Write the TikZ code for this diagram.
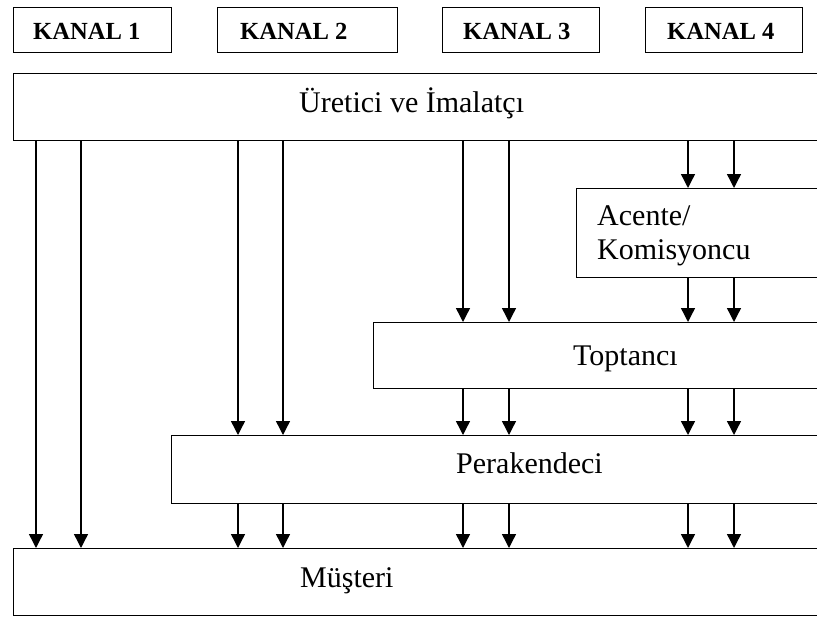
\documentclass[tikz,border=0pt]{standalone}
\usepackage{fontspec}
\setmainfont{Liberation Serif}
\usetikzlibrary{arrows.meta}
\begin{document}
\begin{tikzpicture}[x=1pt,y=-1pt,
  panel/.style={draw, line width=1.4pt, inner sep=0pt, anchor=north west},
  kanaltxt/.style={inner sep=0pt, anchor=base west, font=\fontsize{24.6}{28}\selectfont\bfseries},
  lbl/.style={inner sep=0pt, anchor=base west, font=\fontsize{30}{34}\selectfont},
  arr/.style={line width=1.4pt, -{Triangle[length=14pt,width=14pt]}}]
\useasboundingbox (0,0) rectangle (817,618);
\clip (0,0) rectangle (817,618);
% channel header boxes
\node[panel, minimum width=158pt, minimum height=45pt] (k1) at (13,7) {};
\node[panel, minimum width=180pt, minimum height=45pt] (k2) at (217,7) {};
\node[panel, minimum width=157pt, minimum height=45pt] (k3) at (442,7) {};
\node[panel, minimum width=157pt, minimum height=45pt] (k4) at (645,7) {};
\node[kanaltxt] (t1) at (33,40) {KANAL 1};
\node[kanaltxt] (t2) at (240,40) {KANAL 2};
\node[kanaltxt] (t3) at (463,40) {KANAL 3};
\node[kanaltxt] (t4) at (667,40) {KANAL 4};
% level boxes
\node[panel, minimum width=817pt, minimum height=67pt] (ure) at (13,73) {};
\node[panel, minimum width=254pt, minimum height=89pt] (ace) at (576,188) {};
\node[panel, minimum width=457pt, minimum height=66pt] (top) at (373,322) {};
\node[panel, minimum width=659pt, minimum height=68pt] (per) at (171,435) {};
\node[panel, minimum width=817pt, minimum height=67pt] (mus) at (13,548) {};
\node[lbl] (ureT) at (299,112) {Üretici ve İmalatçı};
\node[lbl] (aceT1) at (597,225) {Acente/};
\node[lbl] (aceT2) at (597,259) {Komisyoncu};
\node[lbl] (topT) at (573,365) {Toptancı};
\node[lbl] (perT) at (456,473) {Perakendeci};
\node[lbl] (musT) at (300,587) {Müşteri};
% arrow columns
\coordinate (c1) at (36,0);
\coordinate (c2) at (81,0);
\coordinate (c3) at (238,0);
\coordinate (c4) at (283,0);
\coordinate (c5) at (463,0);
\coordinate (c6) at (509,0);
\coordinate (c7) at (688,0);
\coordinate (c8) at (734,0);
% Kanal 1
\foreach \c in {c1,c2} \draw[arr] (\c |- ure.south) -- (\c |- mus.north);
% Kanal 2
\foreach \c in {c3,c4} {
  \draw[arr] (\c |- ure.south) -- (\c |- per.north);
  \draw[arr] (\c |- per.south) -- (\c |- mus.north);
}
% Kanal 3
\foreach \c in {c5,c6} {
  \draw[arr] (\c |- ure.south) -- (\c |- top.north);
  \draw[arr] (\c |- top.south) -- (\c |- per.north);
  \draw[arr] (\c |- per.south) -- (\c |- mus.north);
}
% Kanal 4
\foreach \c in {c7,c8} {
  \draw[arr] (\c |- ure.south) -- (\c |- ace.north);
  \draw[arr] (\c |- ace.south) -- (\c |- top.north);
  \draw[arr] (\c |- top.south) -- (\c |- per.north);
  \draw[arr] (\c |- per.south) -- (\c |- mus.north);
}
\end{tikzpicture}
\end{document}
